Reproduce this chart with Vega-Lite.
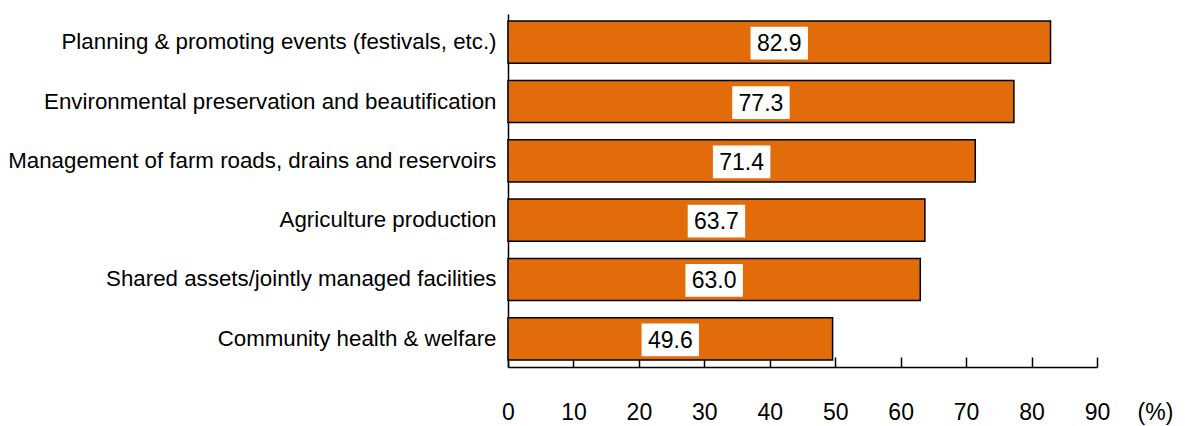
{
  "$schema": "https://vega.github.io/schema/vega-lite/v6.json",
  "width": 589,
  "height": 353,
  "autosize": {"type": "none"},
  "padding": {"left": 508, "top": 14, "right": 88, "bottom": 59},
  "background": "white",
  "config": {
    "view": {"stroke": null},
    "font": "Liberation Sans, Arial, sans-serif"
  },
  "data": {
    "values": [
      {"category": "Planning & promoting events (festivals, etc.)", "value": 82.9, "label": "82.9"},
      {"category": "Environmental preservation and beautification", "value": 77.3, "label": "77.3"},
      {"category": "Management of farm roads, drains and reservoirs", "value": 71.4, "label": "71.4"},
      {"category": "Agriculture production", "value": 63.7, "label": "63.7"},
      {"category": "Shared assets/jointly managed facilities", "value": 63.0, "label": "63.0"},
      {"category": "Community health & welfare", "value": 49.6, "label": "49.6"}
    ]
  },
  "encoding": {
    "y": {
      "field": "category",
      "type": "nominal",
      "sort": null,
      "scale": {"paddingInner": 0.29, "paddingOuter": 0.12},
      "axis": {
        "title": null,
        "ticks": false,
        "domainColor": "black",
        "domainWidth": 1.5,
        "labelFont": "Liberation Sans, Arial, sans-serif",
        "labelFontSize": 22.3,
        "labelColor": "black",
        "labelPadding": 12,
        "labelLimit": 600
      }
    }
  },
  "layer": [
    {
      "mark": {"type": "bar", "color": "#E36C0A", "stroke": "black", "strokeWidth": 1.5},
      "encoding": {
        "x": {
          "field": "value",
          "type": "quantitative",
          "scale": {"domain": [0, 90], "nice": false},
          "axis": {
            "title": "(%)",
            "values": [0, 10, 20, 30, 40, 50, 60, 70, 80, 90],
            "grid": false,
            "domainColor": "black",
            "domainWidth": 1.5,
            "tickColor": "black",
            "tickWidth": 1.5,
            "tickSize": -10,
            "labelFont": "Liberation Sans, Arial, sans-serif",
            "labelFontSize": 23,
            "labelColor": "black",
            "labelPadding": 55,
            "labelBaseline": "middle",
            "labelFlush": false,
            "titleFont": "Liberation Sans, Arial, sans-serif",
            "titleFontSize": 23,
            "titleFontWeight": "normal",
            "titleColor": "black",
            "titleAnchor": null,
            "titleX": 647,
            "titleY": 45,
            "titleAlign": "center",
            "titleBaseline": "middle"
          }
        }
      }
    },
    {
      "encoding": {
        "x": {
          "field": "value",
          "type": "quantitative",
          "scale": {"domain": [0, 180], "nice": false},
          "axis": null
        }
      },
      "layer": [
        {
          "mark": {
            "type": "point",
            "shape": "M-1,-0.57L1,-0.57L1,0.57L-1,0.57Z",
            "size": 3300,
            "filled": true,
            "color": "white",
            "opacity": 1,
            "strokeWidth": 0,
            "yOffset": 1
          }
        },
        {
          "mark": {
            "type": "text",
            "font": "Liberation Sans, Arial, sans-serif",
            "fontSize": 23,
            "color": "black",
            "align": "center",
            "baseline": "middle",
            "yOffset": 2
          },
          "encoding": {"text": {"field": "label"}}
        }
      ]
    }
  ],
  "resolve": {"scale": {"x": "independent"}, "axis": {"x": "independent"}}
}
